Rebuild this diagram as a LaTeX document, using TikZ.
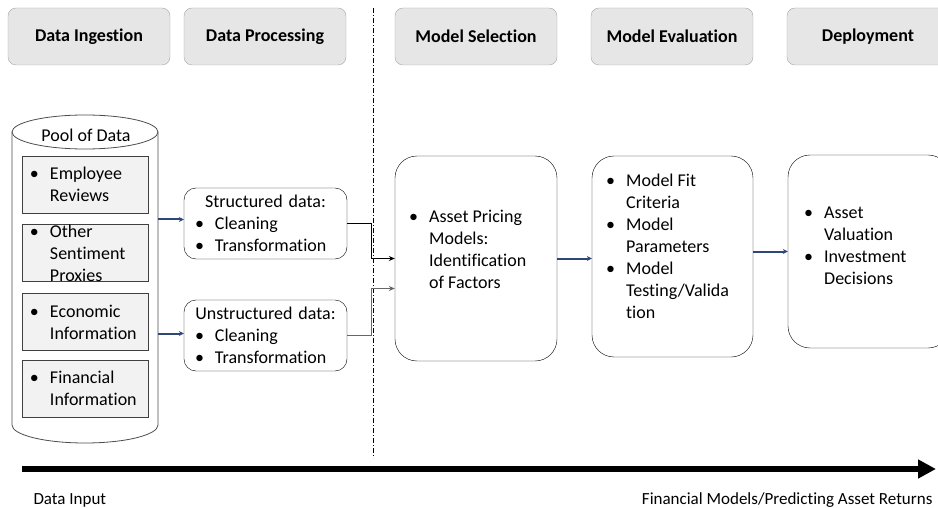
\documentclass[tikz,border=0pt]{standalone}
\usepackage{fontspec}
\setmainfont{Carlito}[Ligatures=NoCommon]
\usetikzlibrary{arrows.meta}
\newcommand{\itm}[1]{\makebox[20pt][l]{\textbullet}#1}
\newcommand{\cnt}[1]{\makebox[20pt]{}#1}
\definecolor{linkblue}{RGB}{46,70,120}
\definecolor{stagefill}{RGB}{231,230,230}
\begin{document}
\begin{tikzpicture}[x=1pt,y=-1pt,
    every node/.style={font=\fontsize{18}{22}\selectfont},
    stage/.style={draw=black!35, fill=stagefill, rounded corners=8pt, minimum width=162pt, minimum height=57pt, font=\fontsize{18}{22}\selectfont\bfseries},
    srcbox/.style={draw=black!75, fill=black!5, minimum width=126pt, minimum height=57pt, inner xsep=8pt, inner ysep=0pt, text width=110pt, align=left},
    procbox/.style={draw, rounded corners=12pt, minimum height=71pt, inner xsep=11pt, inner ysep=0pt, text width=141pt, align=left},
    modelbox/.style={draw, rounded corners=22pt},
    boxtext/.style={align=left, inner sep=0pt, anchor=west},
    link/.style={draw=linkblue, line width=2pt, -{Stealth[length=5pt,width=5pt]}},
    feed/.style={line width=0.8pt, -{Stealth[length=6pt,width=5pt]}},
    divider/.style={line width=0.8pt, dash pattern=on 5pt off 2pt on 1pt off 2pt},
    axis/.style={line width=6pt, -{Triangle[length=18pt,width=18pt]}}]
    \useasboundingbox (0,0) rectangle (938,508);
    \clip (0,0) rectangle (938,508);

    \node[stage] (ingest) at (89,36.5) {Data Ingestion};
    \node[stage] (process) at (265,36.5) {Data Processing};
    \node[stage] (select) at (476,36.5) {Model Selection};
    \node[stage] (evaluate) at (672,36.5) {Model Evaluation};
    \node[stage] (deploy) at (868,36.5) {Deployment};

    \draw[divider] (373,8) -- (373,458);

    \draw[draw=black!70, line width=0.8pt] (12,132) -- (12,425) arc[start angle=180, end angle=360, x radius=73pt, y radius=18pt] -- (158,132);
    \draw[draw=black!70, line width=0.8pt, fill=white] (85,132) ellipse [x radius=73pt, y radius=17pt];
    \coordinate (poolR) at (158,0);
    \node (pool) at (86,135) {Pool of Data};

    \node[srcbox] (employee) at (85,184.5) {\itm{Employee}\\\cnt{Reviews}};
    \node[srcbox] (sentiment) at (85,253) {\itm{Other}\\\cnt{Sentiment}\\\cnt{Proxies}};
    \node[srcbox] (economic) at (85,322) {\itm{Economic}\\\cnt{Information}};
    \node[srcbox] (financial) at (85,388.5) {\itm{Financial}\\\cnt{Information}};

    \node[procbox] (sd) at (265.5,223.5) {\makebox[141pt]{Structured data:}\\\itm{Cleaning}\\\itm{Transformation}};
    \node[procbox] (ud) at (265.5,335.5) {\makebox[141pt]{Unstructured data:}\\\itm{Cleaning}\\\itm{Transformation}};

    \node[modelbox, minimum width=162pt, minimum height=205pt] (asset) at (476,258.5) {};
    \node[modelbox, minimum width=161pt, minimum height=201pt] (eval) at (672.5,256.5) {};
    \node[modelbox, minimum width=162pt, minimum height=193pt] (deploybox) at (869,251.5) {};

    \node[boxtext] (assettxt) at (409,249) {\itm{Asset Pricing}\\\cnt{Models:}\\\cnt{Identification}\\\cnt{of Factors}};
    \node[boxtext] (evaltxt) at (606,246.5) {\itm{Model Fit}\\\cnt{Criteria}\\\itm{Model}\\\cnt{Parameters}\\\itm{Model}\\\cnt{Testing/Valida}\\\cnt{tion}};
    \node[boxtext] (deploytxt) at (804,245.5) {\itm{Asset}\\\cnt{Valuation}\\\itm{Investment}\\\cnt{Decisions}};

    \coordinate (sdin) at ([yshift=4pt]sd.west);
    \coordinate (udin) at ([yshift=2pt]ud.west);
    \draw[link] (poolR |- sdin) -- (sdin);
    \draw[link] (poolR |- udin) -- (udin);

    \coordinate (bus) at (371,0);
    \coordinate (assetin) at ([yshift=-30pt]asset.west);
    \draw[feed] (sd.east) -- (sd.east -| bus) -- (bus |- asset.west) -- (asset.west);
    \draw[feed, draw=black!60] (ud.east) -- (ud.east -| bus) -- (bus |- assetin) -- (assetin);

    \draw[link] (asset.east) -- (asset.east -| eval.west);
    \draw[link] (eval.east |- deploybox.west) -- (deploybox.west);

    \coordinate (axisL) at (22,469);
    \coordinate (axisR) at (936,469);
    \draw[axis] (axisL) -- (axisR);
    \node[anchor=west, font=\fontsize{17}{20}\selectfont] (input) at (30,500) {Data Input};
    \node[anchor=east, font=\fontsize{17}{20}\selectfont] (output) at (936,500) {Financial Models/Predicting Asset Returns};
\end{tikzpicture}
\end{document}
